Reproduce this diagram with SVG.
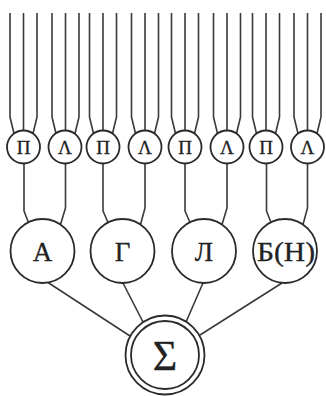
<svg xmlns="http://www.w3.org/2000/svg" width="326" height="396" viewBox="0 0 326 396">
<style>
.w{fill:none;stroke:#3a3a3a;stroke-width:1.6;stroke-linejoin:round}
.c{fill:#fff;stroke:#2a2a2a;stroke-width:1.8}
.t{font-family:"Liberation Serif","DejaVu Serif",serif;fill:#222;stroke:#222;stroke-width:0.3;text-anchor:middle}
.s{font-size:19px}
.b{font-size:27px}
</style>
<rect width="326" height="396" fill="#fff"/>
<g id="connectors" class="w">
<path d="M10,13V117L14,133.5M23.5,13V130.5M37,13V117L33,133.5"/>
<path d="M52,13V117L56,133.5M65.5,13V130.5M79,13V117L75,133.5"/>
<path d="M89.5,13V117L93.5,133.5M103,13V130.5M116.5,13V117L112.5,133.5"/>
<path d="M131.5,13V117L135.5,133.5M145,13V130.5M158.5,13V117L154.5,133.5"/>
<path d="M171.5,13V117L175.5,133.5M185,13V130.5M198.5,13V117L194.5,133.5"/>
<path d="M213.5,13V117L217.5,133.5M227,13V130.5M240.5,13V117L236.5,133.5"/>
<path d="M252.5,13V117L256.5,133.5M266,13V130.5M279.5,13V117L275.5,133.5"/>
<path d="M294,13V117L298,133.5M307.5,13V130.5M321,13V117L317,133.5"/>
<path d="M24,163.5V211L28.5,222.5M65.5,163.5V208L60.5,224.5"/>
<path d="M103,163.5V211L108,222.5M145,163.5V208L140.5,224.5"/>
<path d="M185,163.5V211L190,222.5M227,163.5V208L222,224.5"/>
<path d="M266.5,163.5V211L271,222.5M307.5,163.5V208L303,224.5"/>
<path d="M48,282.5L130,336M123,283L143,322M203,283L186,322M282,283L200,335"/>
</g>
<g id="n1"><circle class="c" cx="23.5" cy="147" r="16.5"/><text class="t s" x="23.5" y="154">П</text></g>
<g id="n2"><circle class="c" cx="65" cy="147" r="16.5"/><text class="t s" x="65" y="154">Λ</text></g>
<g id="n3"><circle class="c" cx="103" cy="147" r="16.5"/><text class="t s" x="103" y="154">П</text></g>
<g id="n4"><circle class="c" cx="145" cy="147" r="16.5"/><text class="t s" x="145" y="154">Λ</text></g>
<g id="n5"><circle class="c" cx="185" cy="147" r="16.5"/><text class="t s" x="185" y="154">П</text></g>
<g id="n6"><circle class="c" cx="227" cy="147" r="16.5"/><text class="t s" x="227" y="154">Λ</text></g>
<g id="n7"><circle class="c" cx="266" cy="147" r="16.5"/><text class="t s" x="266" y="154">П</text></g>
<g id="n8"><circle class="c" cx="307.5" cy="147" r="16.5"/><text class="t s" x="307.5" y="154">Λ</text></g>
<g id="A"><circle class="c" cx="42.5" cy="251" r="32"/><text class="t b" x="42.5" y="260.5">А</text></g>
<g id="G"><circle class="c" cx="122.5" cy="251" r="32"/><text class="t b" x="122.5" y="260.5">Г</text></g>
<g id="L"><circle class="c" cx="204" cy="251" r="32"/><text class="t b" x="204" y="260.5">Л</text></g>
<g id="B"><circle class="c" cx="285" cy="251" r="32"/><text class="t b" x="286" y="260.5" textLength="58" lengthAdjust="spacingAndGlyphs">Б(Н)</text></g>
<g id="S"><circle class="c" cx="165" cy="355" r="39.5" stroke-width="2"/><circle class="c" cx="165" cy="355" r="34" stroke-width="2"/><text class="t" x="165" y="370" font-size="42">Σ</text></g>
</svg>
